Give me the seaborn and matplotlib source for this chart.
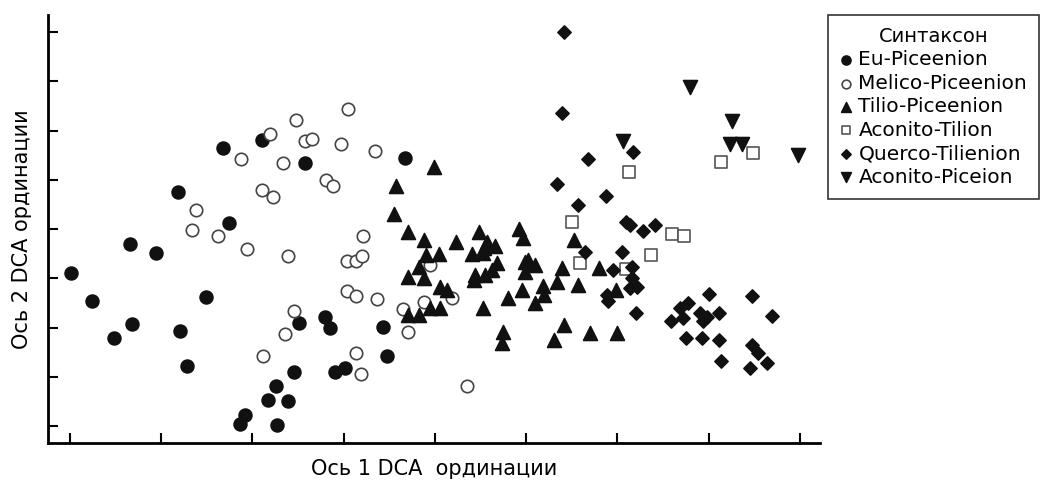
import pandas as pd
import matplotlib
matplotlib.use("Agg")
import matplotlib.pyplot as plt
import seaborn as sns

# Syntaxon groups and DCA scores (axis 1, axis 2)
groups = ["Eu-Piceenion", "Melico-Piceenion", "Tilio-Piceenion",
          "Aconito-Tilion", "Querco-Tilienion", "Aconito-Piceion"]

eu_x = [0.01, 0.24, 0.48, 0.66, 0.68, 0.94, 1.18, 1.21, 1.28, 1.49, 1.68, 1.74, 2.11, 2.58, 3.67,
        2.51, 2.80, 2.85, 3.43, 3.48, 2.46, 2.91, 3.02, 2.26, 2.39, 2.17, 2.27, 1.92, 1.86]
eu_y = [3.11, 2.54, 1.79, 3.70, 2.07, 3.51, 4.75, 1.93, 1.22, 2.62, 5.64, 4.12, 5.81, 5.34, 5.44,
        2.09, 2.21, 1.99, 2.01, 1.42, 1.10, 1.10, 1.18, 0.81, 0.51, 0.53, 0.02, 0.22, 0.04]

melico_x = [1.38, 1.34, 1.62, 1.94, 1.88, 2.19, 2.11, 2.23, 2.34, 2.48, 2.58, 2.65, 2.97, 3.05,
            3.34, 2.81, 2.88, 3.21, 2.39, 3.04, 3.14, 3.20, 3.95, 3.04, 3.13, 3.37, 3.65, 3.88,
            4.19, 2.46, 2.36, 3.70, 3.13, 3.19, 4.35, 2.12]
melico_y = [4.39, 3.98, 3.86, 3.59, 5.42, 5.93, 4.79, 4.65, 5.34, 6.21, 5.79, 5.83, 5.73, 6.44,
            5.58, 5.00, 4.87, 3.86, 3.45, 3.35, 3.35, 3.45, 3.27, 2.74, 2.64, 2.58, 2.38, 2.52,
            2.60, 2.34, 1.87, 1.91, 1.48, 1.06, 0.81, 1.42]

tilio_x = [3.99, 3.57, 3.55, 3.71, 3.88, 4.23, 4.48, 4.92, 4.96, 4.57, 4.66, 4.54, 4.41, 4.53,
           3.90, 4.04, 3.83, 3.71, 3.88, 4.68, 4.63, 4.55, 4.44, 4.43, 4.99, 4.99, 4.06, 4.13,
           4.80, 4.95, 4.53, 3.95, 4.06, 3.70, 3.83, 4.75, 4.73, 5.52, 5.02, 5.10, 5.39, 5.34,
           5.57, 5.80, 5.18, 5.19, 5.10, 5.98, 5.41, 5.30, 5.70, 5.99]
tilio_y = [5.26, 4.87, 4.30, 3.94, 3.78, 3.74, 3.94, 4.00, 3.82, 3.74, 3.65, 3.61, 3.49, 3.51,
           3.47, 3.49, 3.23, 3.03, 3.01, 3.31, 3.17, 3.07, 3.07, 2.96, 3.33, 3.13, 2.82, 2.76,
           2.60, 2.76, 2.40, 2.40, 2.40, 2.25, 2.25, 1.91, 1.69, 3.78, 3.37, 3.27, 3.21, 2.92,
           2.86, 3.21, 2.84, 2.66, 2.50, 2.76, 2.05, 1.75, 1.89, 1.89]

aconito_t_x = [6.13, 7.13, 7.49, 5.50, 6.60, 6.73, 6.37, 5.59, 6.09]
aconito_t_y = [5.16, 5.36, 5.54, 4.14, 3.90, 3.86, 3.47, 3.31, 3.19]

querco_x = [5.41, 5.39, 5.68, 6.17, 5.34, 5.87, 5.57, 6.09, 6.14, 6.28, 6.41, 5.64, 6.05, 5.95,
            6.16, 6.16, 6.14, 6.21, 5.89, 5.90, 6.20, 7.00, 7.47, 6.77, 6.69, 6.72, 6.59, 6.91,
            6.98, 6.94, 7.11, 7.69, 6.75, 6.93, 7.11, 7.48, 7.54, 7.64, 7.13, 7.45]
querco_y = [8.00, 6.36, 5.42, 5.56, 4.91, 4.67, 4.49, 4.14, 4.08, 3.96, 4.08, 3.53, 3.53, 3.17,
            3.23, 3.01, 2.80, 2.82, 2.66, 2.54, 2.29, 2.68, 2.64, 2.50, 2.40, 2.19, 2.13, 2.29,
            2.21, 2.13, 2.29, 2.23, 1.79, 1.79, 1.75, 1.64, 1.48, 1.28, 1.32, 1.18]

aconito_p_x = [6.79, 7.26, 7.23, 7.37, 7.98, 6.06]
aconito_p_y = [6.88, 6.19, 5.73, 5.73, 5.50, 5.79]

xs = [eu_x, melico_x, tilio_x, aconito_t_x, querco_x, aconito_p_x]
ys = [eu_y, melico_y, tilio_y, aconito_t_y, querco_y, aconito_p_y]

df = pd.concat([pd.DataFrame({"axis1": x, "axis2": y, "group": g})
                for g, x, y in zip(groups, xs, ys)], ignore_index=True)

# marker, face colour, edge colour, size
styles = {
    "Eu-Piceenion":     ("o", "#111111", "#111111", 85),
    "Melico-Piceenion": ("o", "white",   "#444444", 80),
    "Tilio-Piceenion":  ("^", "#111111", "#111111", 100),
    "Aconito-Tilion":   ("s", "white",   "#555555", 75),
    "Querco-Tilienion": ("D", "#111111", "#111111", 45),
    "Aconito-Piceion":  ("v", "#111111", "#111111", 100),
}

sns.set_style("ticks")
plt.rcParams["font.family"] = ["DejaVu Sans"]
plt.rcParams["text.color"] = "black"
plt.rcParams["axes.labelcolor"] = "black"

fig = plt.figure(figsize=(10.51, 4.82), dpi=100)
ax = fig.add_axes([0.0457, 0.081, 0.7345, 0.888])

for g in groups:
    m, fc, ec, s = styles[g]
    sns.scatterplot(data=df[df["group"] == g], x="axis1", y="axis2", marker=m, s=s,
                    color=fc, edgecolor=ec, linewidth=1.2, label=g, ax=ax)

ax.set_xlim(-0.24, 8.22)
ax.set_ylim(-0.345, 8.35)
ax.set_xticks(range(9))
ax.set_yticks(range(9))
ax.set_xticklabels([])
ax.set_yticklabels([])
ax.tick_params(direction="in", length=7, width=1.5, color="black",
               bottom=True, left=True)
for side in ["top", "right"]:
    ax.spines[side].set_visible(False)
for side in ["left", "bottom"]:
    ax.spines[side].set_linewidth(2)
    ax.spines[side].set_color("black")

ax.set_xlabel("Ось 1 DCA  ординации", fontsize=15, labelpad=8)
ax.set_ylabel("Ось 2 DCA ординации", fontsize=15, labelpad=8)

leg = ax.legend(title="Синтаксон", loc="upper left", bbox_to_anchor=(0.788, 0.969),
                bbox_transform=fig.transFigure, borderaxespad=0, fontsize=14.5,
                title_fontsize=14, frameon=True, fancybox=False, markerscale=0.7,
                handlelength=0.6, handletextpad=0.3, labelspacing=0.22,
                borderpad=0.6)
leg.get_frame().set_edgecolor("black")
leg.get_frame().set_linewidth(1.2)
for t in leg.get_texts():
    t.set_color("black")

fig.savefig("out.png", dpi=100)
